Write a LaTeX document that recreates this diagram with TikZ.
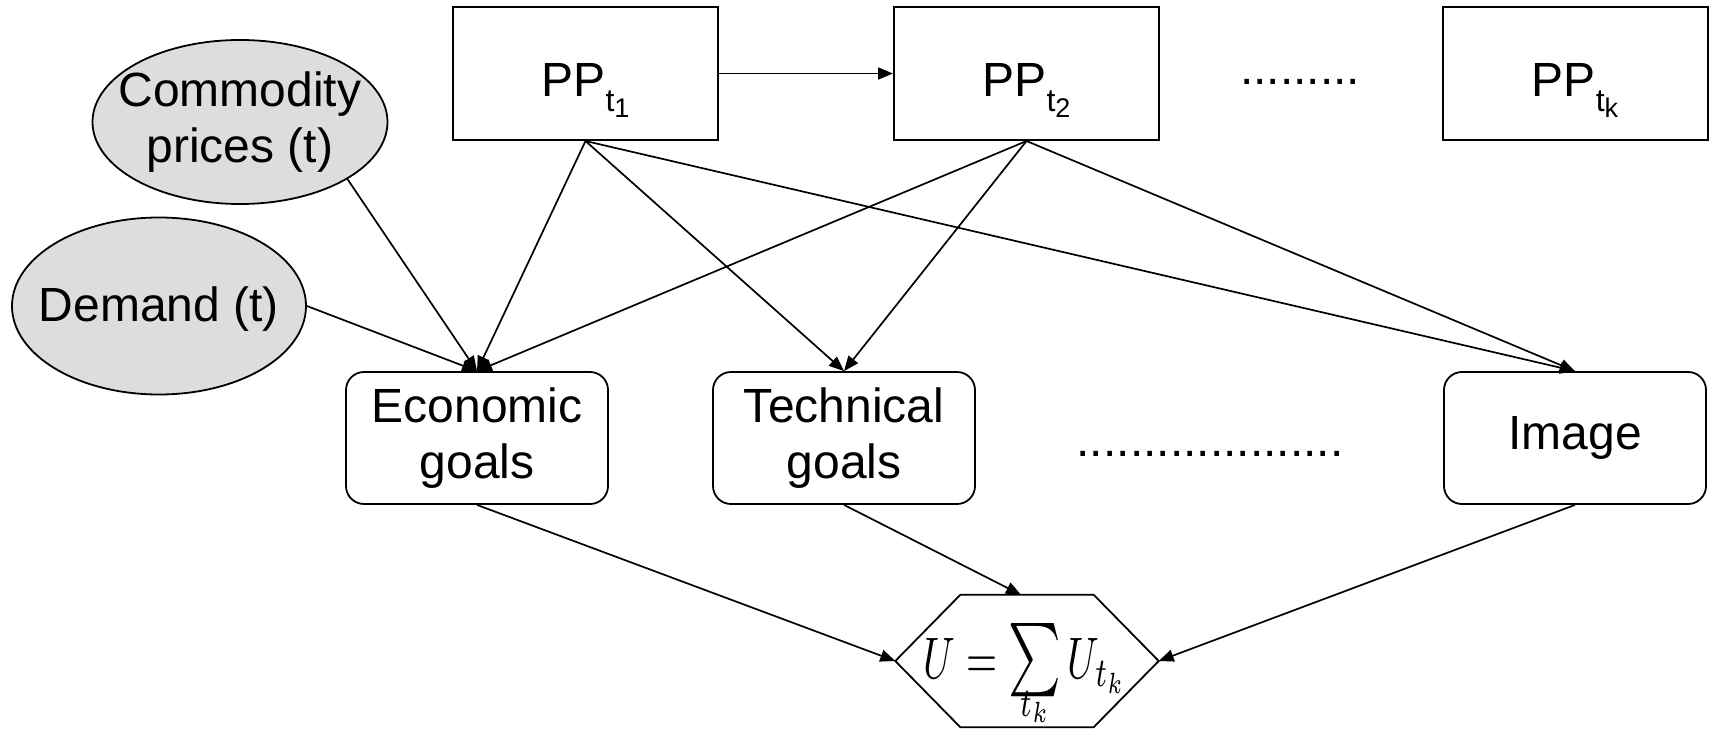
\documentclass[tikz,border=0pt]{standalone}
\usepackage{graphicx}
\usepackage{fontspec}
\setmainfont{Liberation Sans}
\usetikzlibrary{arrows.meta,shapes.geometric}
\definecolor{ellgray}{HTML}{DDDDDD}
\newcommand{\ppsub}[1]{PP\raisebox{-15pt}{\fontsize{32}{32}\selectfont t\raisebox{-6pt}{\fontsize{27}{27}\selectfont #1}}}
\begin{document}
\begin{tikzpicture}[x=1pt,y=-1pt,
  txt/.style={font=\fontsize{48}{56}\selectfont},
  ppbox/.style={txt,draw,line width=2pt,minimum width=265pt,minimum height=133pt,inner sep=0pt,text height=47pt,text depth=0pt},
  goal/.style={txt,draw,line width=1.8pt,rounded corners=18pt,minimum width=262pt,minimum height=132pt,inner sep=0pt,align=center},
  ell/.style={txt,draw,line width=1.8pt,fill=ellgray,ellipse,inner xsep=-30pt,inner ysep=0pt,align=center},
  arr/.style={line width=1.7pt,-{Triangle[length=15pt,width=12pt]}}
]
\useasboundingbox (0,0) rectangle (1710,730);
% top row
\node[ppbox] (pp1) at (585.5,73.5) {\ppsub{1}};
\node[ppbox] (pp2) at (1026.5,73.5) {\ppsub{2}};
\node[ppbox] (ppk) at (1575,73.5) {\ppsub{k}};
\node[txt,anchor=base] (dots1) at (1300,85) {.........};
% ellipses
\node[ell,minimum width=295pt,minimum height=164pt] (comm) at (240,122) {Commodity\\prices (t)};
\node[ell,minimum width=294pt,minimum height=177pt,text depth=4pt] (dem) at (159,306) {Demand (t)};
% goals
\node[goal] (econ) at (477,438) {Economic\\goals};
\node[goal] (tech) at (844,438) {Technical\\goals};
\node[goal] (img) at (1575,438) {Image};
\node[txt,anchor=base] (dots2) at (1210,456) {....................};
% hexagon
\node[minimum width=263pt,minimum height=132pt,inner sep=0pt] (hex) at (1027,661) {};
\draw[line width=1.8pt,line join=miter] (hex.west) -- ([xshift=65pt]hex.north west) -- ([xshift=-65pt]hex.north east) -- (hex.east) -- ([xshift=-65pt]hex.south east) -- ([xshift=65pt]hex.south west) -- cycle;
\node[anchor=base,inner sep=0pt] (formula) at (1025,678) {\scalebox{4.0}[5.86]{$\textstyle U=\mathop{\scalebox{1.25}{$\textstyle\sum$}}\limits_{\raisebox{2.6pt}{\smash{$\scriptstyle t_k$}}}U_{t_k}$}};
% connectors
\draw[arr] (pp1.east) -- (pp2.west);
\draw[arr] (comm.-28) -- (econ.north);
\draw[arr] (dem.east) -- (econ.north);
\draw[arr] (pp1.south) -- (econ.north);
\draw[arr] (pp1.south) -- (tech.north);
\draw[arr] (pp1.south) -- (img.north);
\draw[arr] (pp2.south) -- (econ.north);
\draw[arr] (pp2.south) -- (tech.north);
\draw[arr] (pp2.south) -- (img.north);
\draw[arr] (econ.south) -- (hex.west);
\draw[arr] (tech.south) -- ([xshift=-6pt]hex.north);
\draw[arr] (img.south) -- (hex.east);
\end{tikzpicture}
\end{document}
